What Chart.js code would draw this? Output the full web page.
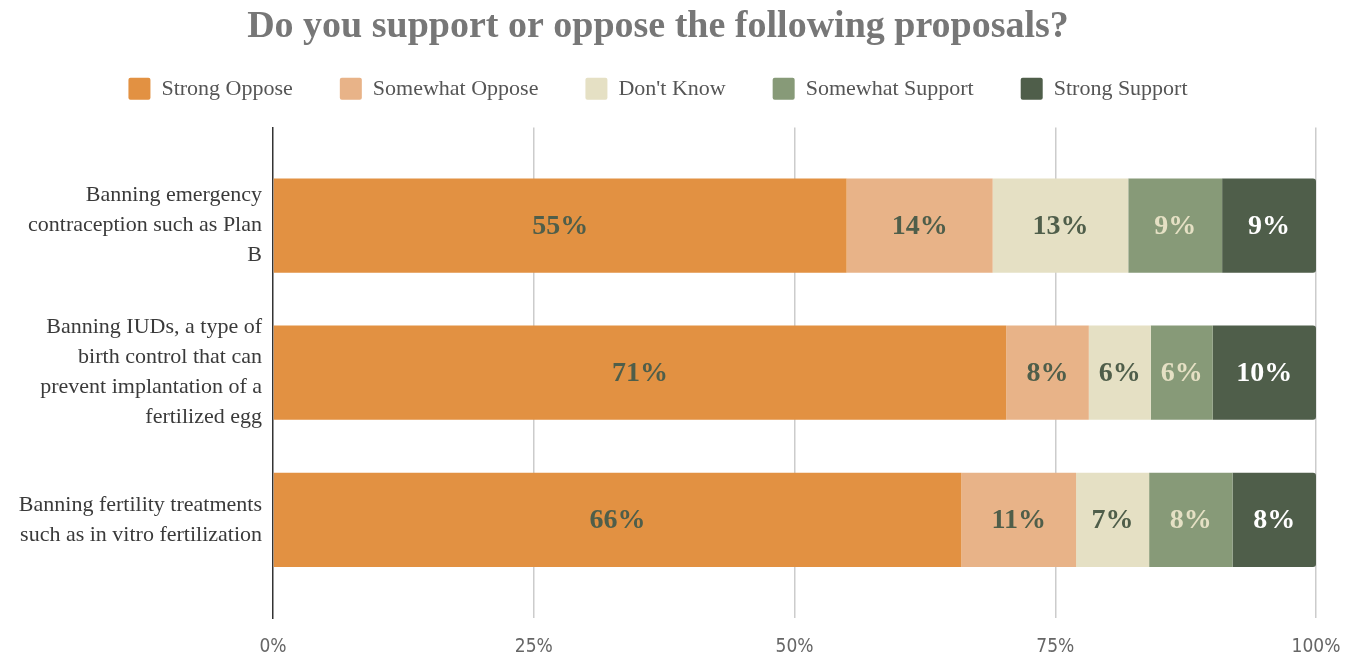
<!DOCTYPE html>
<html><head><meta charset="utf-8">
<script src="https://cdn.jsdelivr.net/npm/chart.js@4"></script>
<style>html,body{margin:0;padding:0;background:#fff}#wrap{width:1361px;height:660px;position:relative}</style>
</head><body><div id="wrap"><canvas id="c"></canvas></div>
<script>
const categories = [
  ['Banning emergency', 'contraception such as Plan', 'B'],
  ['Banning IUDs, a type of', 'birth control that can', 'prevent implantation of a', 'fertilized egg'],
  ['Banning fertility treatments', 'such as in vitro fertilization']
];
const seriesNames = ['Strong Oppose', 'Somewhat Oppose', "Don't Know", 'Somewhat Support', 'Strong Support'];
const strongOppose = [55, 71, 66];
const somewhatOppose = [14, 8, 11];
const dontKnow = [13, 6, 7];
const somewhatSupport = [9, 6, 8];
const strongSupport = [9, 10, 8];
const xTickValues = [0, 25, 50, 75, 100];
const titleText = 'Do you support or oppose the following proposals?';

const seriesValues = [strongOppose, somewhatOppose, dontKnow, somewhatSupport, strongSupport];
const fillColors = ['#E29142', '#E8B388', '#E5E0C4', '#879A78', '#4F5E4A'];
const labelColors = ['#4F5E4A', '#4F5E4A', '#4F5E4A', '#E5E0C4', '#FFFFFF'];
const SERIF = '"Liberation Serif", "DejaVu Serif", serif';

const totals = categories.map((c, i) => seriesValues.reduce((s, arr) => s + arr[i], 0));

const datasets = seriesValues.map((vals, k) => ({
  label: seriesNames[k],
  xAxisID: 'x',
  yAxisID: 'y',
  data: vals.map((v, i) => ({ x: v / totals[i] * 100, y: i })),
  raw: vals,
  labelColor: labelColors[k],
  backgroundColor: fillColors[k],
  borderWidth: 0,
  borderRadius: k === seriesValues.length - 1 ? 3 : 0,
  borderSkipped: 'start',
  barPercentage: 0.8,
  categoryPercentage: 0.8
}));

const valueLabels = {
  id: 'valueLabels',
  afterDatasetsDraw(chart) {
    const ctx = chart.ctx;
    chart.data.datasets.forEach((ds, di) => {
      const meta = chart.getDatasetMeta(di);
      meta.data.forEach((bar, i) => {
        const p = bar.getProps(['x', 'y', 'base'], true);
        ctx.save();
        ctx.font = 'bold 28px ' + SERIF;
        ctx.fillStyle = ds.labelColor;
        ctx.textAlign = 'center';
        ctx.textBaseline = 'middle';
        ctx.fillText(ds.raw[i] + '%', (p.x + p.base) / 2, p.y + 1);
        ctx.restore();
      });
    });
  }
};

new Chart(document.getElementById('c'), {
  type: 'bar',
  data: { datasets },
  plugins: [valueLabels],
  options: {
    indexAxis: 'y',
    responsive: true,
    maintainAspectRatio: false,
    animation: false,
    layout: { padding: { left: 0, right: 45, top: 0, bottom: -16 } },
    plugins: {
      title: {
        display: true,
        text: titleText,
        color: '#777777',
        font: { family: SERIF, size: 38, weight: 'bold' },
        padding: { top: 4, bottom: -18.8 }
      },
      legend: {
        position: 'top',
        labels: {
          color: '#555555',
          font: { family: SERIF, size: 22 },
          boxWidth: 22,
          boxHeight: 22,
          useBorderRadius: true,
          borderRadius: 2,
          padding: 47
        }
      },
      tooltip: { enabled: false }
    },
    scales: {
      x: {
        type: 'linear',
        position: 'bottom',
        stacked: true,
        min: 0,
        max: 100,
        afterBuildTicks(scale) { scale.ticks = xTickValues.map(v => ({ value: v })); },
        ticks: {
          callback: v => v + '%',
          color: '#666666',
          font: { family: '"DejaVu Sans Condensed", "Liberation Sans Narrow", sans-serif', size: 19 },
          padding: 17.6
        },
        grid: {
          color: ctx => ctx.tick && ctx.tick.value === 0 ? 'rgba(0,0,0,0)' : '#CCCCCC',
          lineWidth: 1.5,
          drawTicks: false
        },
        border: { display: false }
      },
      y: {
        type: 'linear',
        position: 'left',
        stacked: true,
        reverse: true,
        offset: false,
        min: -0.667,
        max: 2.667,
        afterFit(scale) { scale.width = 273; scale.paddingTop = 0; scale.paddingBottom = 0; },
        ticks: {
          stepSize: 1,
          includeBounds: false,
          autoSkip: false,
          callback: v => categories[v] || '',
          color: '#3A3A3A',
          font: { family: SERIF, size: 22, lineHeight: 1.364 },
          padding: 11
        },
        grid: { display: false, drawTicks: false },
        border: { display: true, color: '#333333', width: 1.5 }
      },
      gap: {
        type: 'linear',
        position: 'top',
        display: true,
        ticks: { display: false },
        grid: { display: false, drawTicks: false },
        border: { display: false },
        afterFit(scale) { scale.height = 17.6; }
      }
    }
  }
});
</script>
</body></html>
